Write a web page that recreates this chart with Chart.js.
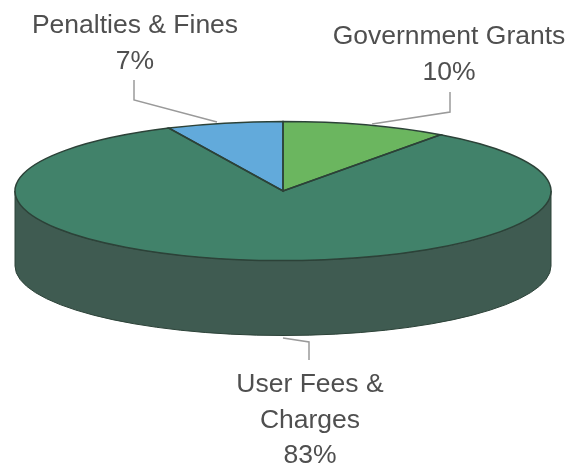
<!DOCTYPE html>
<html>
<head>
<meta charset="utf-8">
<title>Revenue sources</title>
<script src="https://cdn.jsdelivr.net/npm/chart.js@4/dist/chart.umd.min.js"></script>
<style>
  html, body { margin: 0; padding: 0; background: #fff; overflow: hidden; }
  #chart-wrap { width: 573px; height: 464px; }
</style>
</head>
<body>
<div id="chart-wrap"><canvas id="revenue-pie" width="573" height="464"></canvas></div>
<script>
const categories = ['Government Grants', 'User Fees & Charges', 'Penalties & Fines'];
const shares = [10, 83, 7];
const sliceColors = ['#6bb65f', '#41826a', '#62aadb'];
const wallColors = ['#3f6a3a', '#3f5b51', '#3c6a88'];

// where the tilted disc sits on the canvas
const disc = { cx: 283, cy: 191, rx: 268, ry: 69.5, depth: 75 };
const outlineColor = '#2c4238';

// callout text, one entry per slice, with its leader line
const callouts = [
  { lines: ['Government Grants'], x: 449, y: 44, leader: [[450, 92], [450, 112], [372, 124]] },
  { lines: ['User Fees &', 'Charges'], x: 310, y: 392, leader: [[309, 360], [309, 342], [283, 338]] },
  { lines: ['Penalties & Fines'], x: 135, y: 33, leader: [[134, 80], [134, 100], [217, 122]] }
];

// Squashes the pie arcs into an ellipse and puts the side wall under them
const tiltedDisc = {
  id: 'tiltedDisc',
  beforeDatasetsDraw(chart) {
    const ctx = chart.ctx;
    const arcs = chart.getDatasetMeta(0).data;
    const TWO_PI = Math.PI * 2;

    arcs.forEach((arc, i) => {
      // only the part of a slice facing the viewer shows a wall
      for (const shift of [0, TWO_PI, -TWO_PI]) {
        const a = Math.max(arc.startAngle + shift, 0);
        const b = Math.min(arc.endAngle + shift, Math.PI);
        if (b <= a) continue;
        ctx.beginPath();
        ctx.ellipse(disc.cx, disc.cy, disc.rx, disc.ry, 0, a, b);
        ctx.ellipse(disc.cx, disc.cy + disc.depth, disc.rx, disc.ry, 0, b, a, true);
        ctx.closePath();
        ctx.fillStyle = wallColors[i];
        ctx.fill();
        ctx.strokeStyle = outlineColor;
        ctx.lineWidth = 1;
        ctx.stroke();
      }
    });

    const first = arcs[0];
    ctx.save();
    ctx.translate(disc.cx, disc.cy);
    ctx.scale(disc.rx / first.outerRadius, disc.ry / first.outerRadius);
    ctx.translate(-first.x, -first.y);
  },
  afterDatasetsDraw(chart) {
    const ctx = chart.ctx;
    ctx.restore();

    // slice outlines are stroked after the restore so the line width stays even
    chart.getDatasetMeta(0).data.forEach(arc => {
      ctx.beginPath();
      ctx.moveTo(disc.cx, disc.cy);
      ctx.ellipse(disc.cx, disc.cy, disc.rx, disc.ry, 0, arc.startAngle, arc.endAngle);
      ctx.closePath();
      ctx.strokeStyle = outlineColor;
      ctx.lineWidth = 1.5;
      ctx.stroke();
    });

    // leader lines and callout text
    ctx.save();
    ctx.font = '26.5px "Liberation Sans", Arial, sans-serif';
    ctx.textAlign = 'center';
    ctx.textBaseline = 'alphabetic';
    callouts.forEach((c, i) => {
      ctx.beginPath();
      c.leader.forEach(([x, y], j) => j ? ctx.lineTo(x, y) : ctx.moveTo(x, y));
      ctx.strokeStyle = '#9a9a9a';
      ctx.lineWidth = 1.5;
      ctx.stroke();

      ctx.fillStyle = '#4f4f4f';
      c.lines.concat(`${shares[i]}%`).forEach((line, j) => {
        ctx.fillText(line, c.x, c.y + j * 35.5);
      });
    });
    ctx.restore();
  }
};

new Chart(document.getElementById('revenue-pie'), {
  type: 'pie',
  data: {
    labels: categories,
    datasets: [{
      data: shares,
      backgroundColor: sliceColors,
      borderWidth: 0
    }]
  },
  options: {
    responsive: false,
    animation: false,
    layout: { padding: 0 },
    plugins: {
      legend: { display: false },
      tooltip: { enabled: false }
    }
  },
  plugins: [tiltedDisc]
});
</script>
</body>
</html>
